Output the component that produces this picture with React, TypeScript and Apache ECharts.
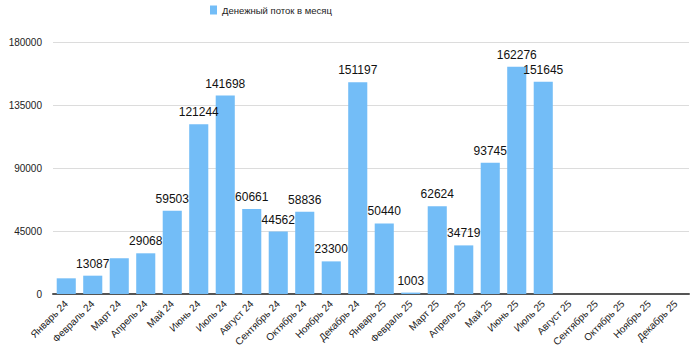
import React, { useEffect, useRef } from "react";
import * as echarts from "echarts";

const categories = [
  "Январь 24", "Февраль 24", "Март 24", "Апрель 24", "Май 24", "Июнь 24",
  "Июль 24", "Август 24", "Сентябрь 24", "Октябрь 24", "Ноябрь 24", "Декабрь 24",
  "Январь 25", "Февраль 25", "Март 25", "Апрель 25", "Май 25", "Июнь 25",
  "Июль 25", "Август 25", "Сентябрь 25", "Октябрь 25", "Ноябрь 25", "Декабрь 25",
];
const values: (number | null)[] = [
  11200, 13087, 25500, 29068, 59503, 121244, 141698, 60661, 44562, 58836, 23300, 151197,
  50440, 1003, 62624, 34719, 93745, 162276, 151645, null, null, null, null, null,
];
const showLabel = [
  false, true, false, true, true, true, true, true, true, true, true, true,
  true, true, true, true, true, true, true, false, false, false, false, false,
];
const seriesName = "Денежный поток в месяц";
const yMax = 180000;
const yInterval = 45000;

export default function App() {
  const ref = useRef<HTMLDivElement>(null);
  useEffect(() => {
    if (!ref.current) return;
    const chart = echarts.init(ref.current, null, { renderer: "svg" });
    const font = "'Liberation Sans', Arial, Helvetica, sans-serif";
    chart.setOption({
      animation: false,
      textStyle: { fontFamily: font },
      legend: {
        left: 205,
        top: 0,
        itemWidth: 7,
        itemHeight: 9,
        itemGap: 6,
        icon: "rect",
        textStyle: { fontSize: 9.5, color: "#222", fontFamily: font },
        data: [seriesName],
      },
      grid: { left: 53, right: 11, top: 42, bottom: 69, containLabel: false },
      xAxis: {
        type: "category",
        data: categories,
        axisLine: { show: true, lineStyle: { color: "#555", width: 2 } },
        axisTick: { show: false },
        axisLabel: {
          rotate: 45,
          interval: 0,
          fontSize: 10,
          color: "#222",
          margin: 8,
          fontFamily: font,
        },
      },
      yAxis: {
        type: "value",
        min: 0,
        max: yMax,
        interval: yInterval,
        axisLine: { show: false },
        axisTick: { show: false },
        splitLine: { lineStyle: { color: "#dcdcdc", width: 1 } },
        axisLabel: {
          fontSize: 10,
          color: "#222",
          margin: 11,
          fontFamily: font,
          formatter: (v: number) => String(v),
        },
      },
      series: [
        {
          name: seriesName,
          type: "bar",
          barCategoryGap: "28%",
          itemStyle: { color: "#73bdf7" },
          label: {
            show: true,
            position: "top",
            distance: 6,
            fontSize: 12,
            color: "#111",
            fontFamily: font,
          },
          data: values.map((v, i) => ({
            value: v,
            label: { show: showLabel[i] },
          })),
        },
      ],
    });
    return () => chart.dispose();
  }, []);
  return (
    <div
      ref={ref}
      style={{ position: "absolute", left: 0, top: 0, width: 700, height: 363 }}
    />
  );
}
